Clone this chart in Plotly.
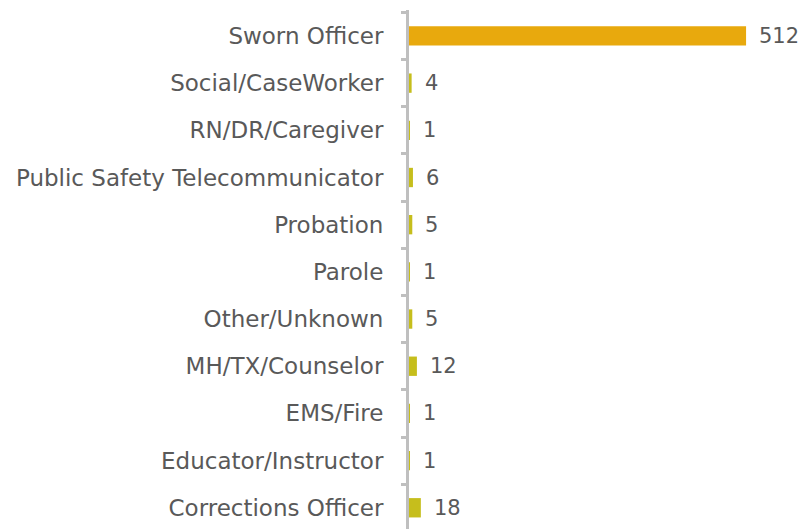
import plotly.graph_objects as go

categories = [
    "Sworn Officer",
    "Social/CaseWorker",
    "RN/DR/Caregiver",
    "Public Safety Telecommunicator",
    "Probation",
    "Parole",
    "Other/Unknown",
    "MH/TX/Counselor",
    "EMS/Fire",
    "Educator/Instructor",
    "Corrections Officer",
]
counts = [512, 4, 1, 6, 5, 1, 5, 12, 1, 1, 18]
bar_colors = ["#E8A90D"] + ["#C6BE1C"] * 10

FONT = "DejaVu Sans"
GREY = "#595959"

fig = go.Figure()
fig.add_trace(
    go.Bar(
        x=counts,
        y=categories,
        orientation="h",
        marker=dict(color=bar_colors, line=dict(width=0)),
        width=0.41,
        hoverinfo="x+y",
    )
)

for cat, val in zip(categories, counts):
    fig.add_annotation(
        x=val,
        y=cat,
        text=str(val),
        showarrow=False,
        xanchor="left",
        xshift=11,
        font=dict(family=FONT, size=21, color=GREY),
    )

fig.update_layout(
    width=809,
    height=529,
    margin=dict(l=409, r=5, t=10, b=0),
    plot_bgcolor="white",
    paper_bgcolor="white",
    showlegend=False,
    font=dict(family=FONT, size=23, color=GREY),
)
fig.update_xaxes(
    range=[0, 600],
    showgrid=False,
    zeroline=False,
    showticklabels=False,
    showline=False,
    automargin=False,
)
fig.update_yaxes(
    categoryorder="array",
    categoryarray=categories[::-1],
    range=[-0.45, 10.55],
    showgrid=False,
    showline=True,
    linecolor="#BFBFBF",
    linewidth=3,
    ticks="outside",
    tickson="boundaries",
    ticklen=5,
    tickwidth=3,
    tickcolor="#BFBFBF",
    ticklabelstandoff=18,
    automargin=False,
    tickfont=dict(family=FONT, size=23, color=GREY),
)

# page body has a default 8px margin; drop it so the figure sits at the origin
fig.write_html(
    "out.html",
    config={"displayModeBar": False},
    post_script="document.body.style.margin = '0';",
)
